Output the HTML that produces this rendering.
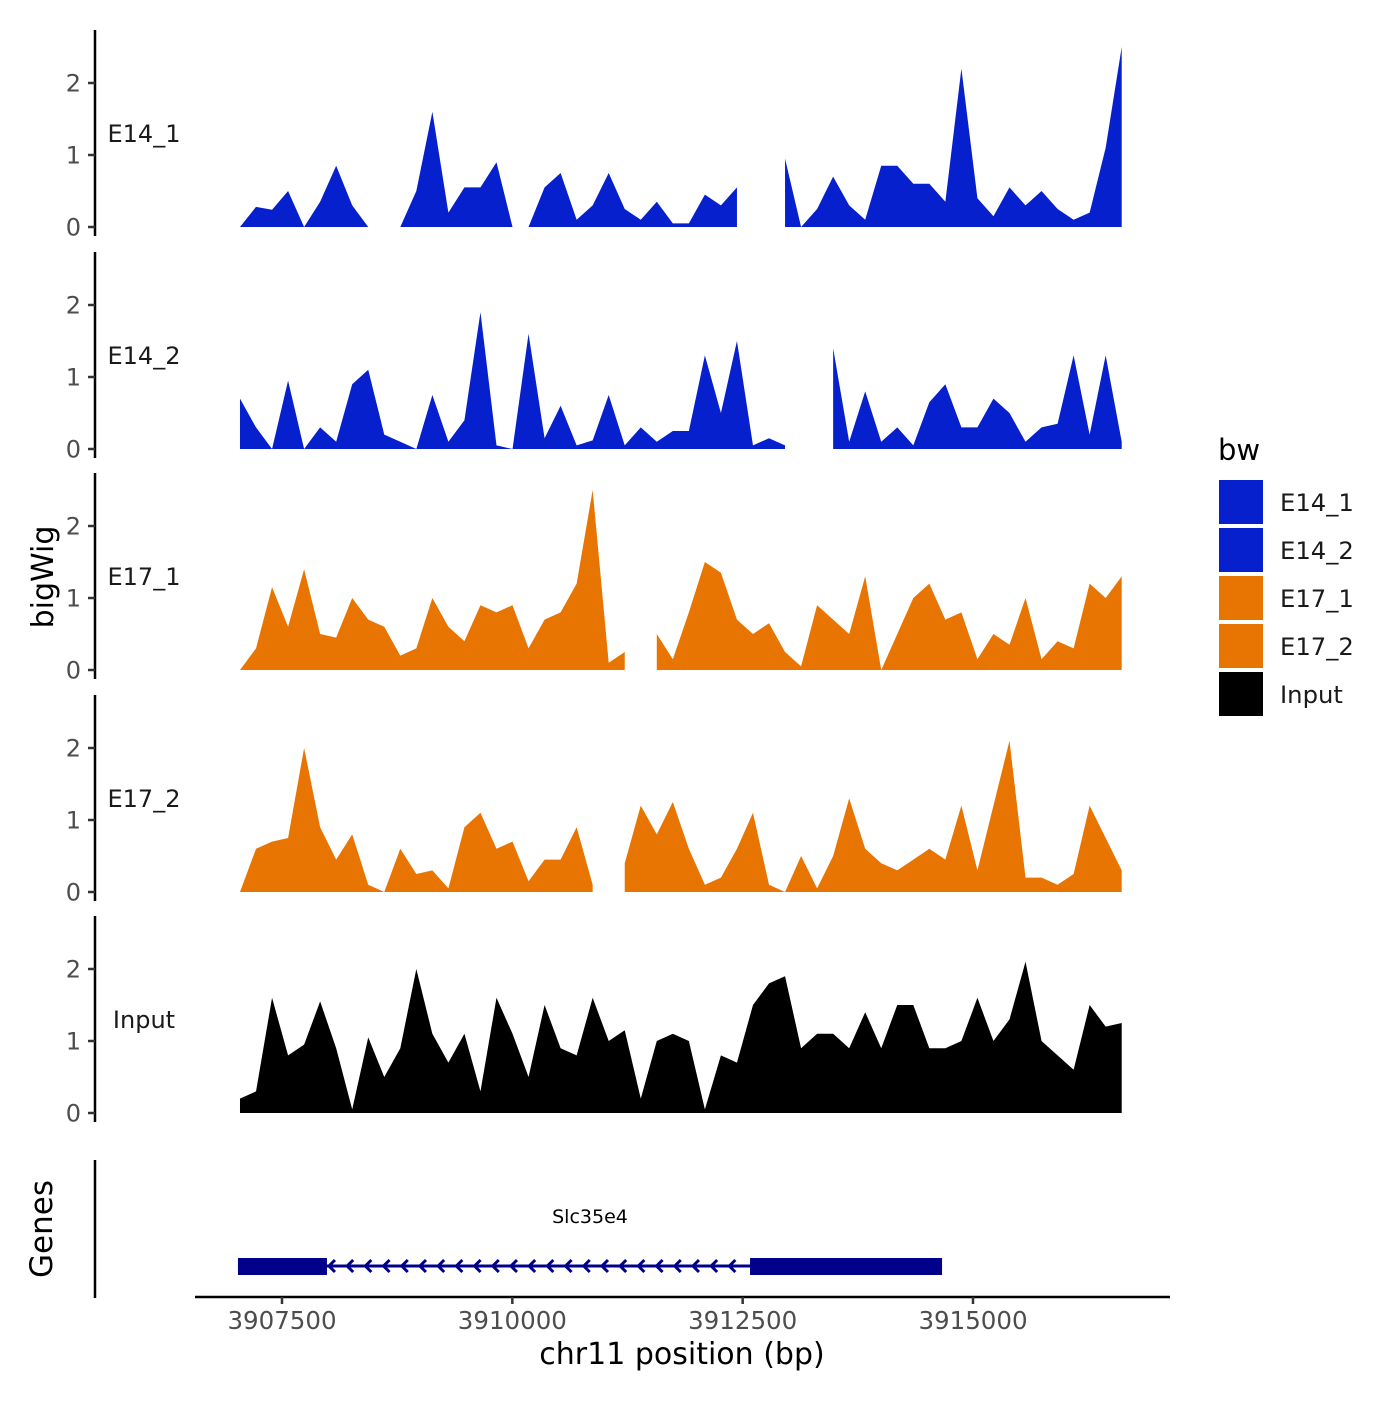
<!DOCTYPE html>
<html><head><meta charset="utf-8"><style>
html,body{margin:0;padding:0;background:#fff;}
svg text{font-family:"DejaVu Sans","Liberation Sans",sans-serif;}
</style></head><body>
<svg id="chart" width="1400" height="1400" viewBox="0 0 1400 1400" xmlns="http://www.w3.org/2000/svg">
<rect width="1400" height="1400" fill="#fff"/>
<g id="tracks"></g>
<g id="genes">
  <line x1="95" y1="1160" x2="95" y2="1298" stroke="#000" stroke-width="2.5"/>
  <text transform="translate(52,1229) rotate(-90)" font-size="31" text-anchor="middle">Genes</text>
  <text x="590" y="1223" font-size="19" text-anchor="middle">Slc35e4</text>
</g>
<g id="xaxis">
  <line x1="195" y1="1297" x2="1170" y2="1297" stroke="#000" stroke-width="2.5"/>
  <text x="682" y="1364" font-size="30" text-anchor="middle">chr11 position (bp)</text>
</g>
<text transform="translate(53,577) rotate(-90)" font-size="30" text-anchor="middle">bigWig</text>
<g id="legend">
  <text x="1218" y="460" font-size="29">bw</text>
</g>
</svg>
<script>
const trackNames = ["E14_1","E14_2","E17_1","E17_2","Input"];
const trackColors = ["#0520CC","#0520CC","#E87502","#E87502","#000000"];
const posStart = 3907044;
const posStep = 174;
const e14_1 = [0,0.28,0.24,0.5,0,0.35,0.85,0.3,0,null,0,0.5,1.6,0.2,0.55,0.55,0.9,0,0,0.55,0.75,0.1,0.3,0.75,0.25,0.1,0.35,0.05,0.05,0.45,0.3,0.55,null,null,0.95,0,0.25,0.7,0.3,0.1,0.85,0.85,0.6,0.6,0.35,2.2,0.4,0.15,0.55,0.3,0.5,0.25,0.1,0.2,1.1,2.5];
const e14_2 = [0.7,0.3,0,0.95,0,0.3,0.1,0.9,1.1,0.2,0.1,0,0.75,0.1,0.4,1.9,0.05,0,1.6,0.15,0.6,0.05,0.12,0.75,0.05,0.3,0.1,0.25,0.25,1.3,0.5,1.5,0.05,0.15,0.05,null,null,1.4,0.1,0.8,0.1,0.3,0.05,0.65,0.9,0.3,0.3,0.7,0.5,0.1,0.3,0.35,1.3,0.2,1.3,0.1];
const e17_1 = [0,0.3,1.15,0.6,1.4,0.5,0.45,1.0,0.7,0.6,0.2,0.3,1.0,0.6,0.4,0.9,0.8,0.9,0.3,0.7,0.8,1.2,2.5,0.1,0.25,null,0.5,0.15,0.8,1.5,1.35,0.7,0.5,0.65,0.25,0.05,0.9,0.7,0.5,1.3,0,0.5,1.0,1.2,0.7,0.8,0.15,0.5,0.35,1.0,0.15,0.4,0.3,1.2,1.0,1.3];
const e17_2 = [0,0.6,0.7,0.75,2.0,0.9,0.45,0.8,0.1,0,0.6,0.25,0.3,0.05,0.9,1.1,0.6,0.7,0.15,0.45,0.45,0.9,0.1,null,0.4,1.2,0.8,1.25,0.6,0.1,0.2,0.6,1.1,0.1,0,0.5,0.05,0.5,1.3,0.6,0.4,0.3,0.45,0.6,0.45,1.2,0.3,1.2,2.1,0.2,0.2,0.1,0.25,1.2,0.75,0.3];
const input = [0.2,0.3,1.6,0.8,0.95,1.55,0.9,0.05,1.05,0.5,0.9,2.0,1.1,0.7,1.1,0.3,1.6,1.1,0.5,1.5,0.9,0.8,1.6,1.0,1.15,0.2,1.0,1.1,1.0,0.05,0.8,0.7,1.5,1.8,1.9,0.9,1.1,1.1,0.9,1.4,0.9,1.5,1.5,0.9,0.9,1.0,1.6,1.0,1.3,2.1,1.0,0.8,0.6,1.5,1.2,1.25];
const seriesValues = [e14_1,e14_2,e17_1,e17_2,input];
const yTicks = [0,1,2];
const xTicks = [3907500,3910000,3912500,3915000];
const geneExons = [[3907022,3907988],[3912580,3914664]];
const geneSpan = [3907022,3914664];

const NS = "http://www.w3.org/2000/svg";
function mk(tag, attrs, parent){ const e=document.createElementNS(NS,tag); for(const k in attrs) e.setAttribute(k,attrs[k]); parent.appendChild(e); return e; }
function xScale(bp){ return 282 + (bp - 3907500) * (691/7500); }
const panelBase = [227, 449, 670, 892, 1113];
const pxPerUnit = 72;
function yScale(p, v){ return panelBase[p] - v * pxPerUnit; }

const tracks = document.getElementById('tracks');
seriesValues.forEach((vals, p) => {
  const g = mk('g', {}, tracks);
  
  
  const base = panelBase[p];
  const ax = mk('line', {x1:95, y1:base-197, x2:95, y2:base+9, stroke:'#000', 'stroke-width':2.5}, g);
  
  
  yTicks.forEach(t => {
    const y = yScale(p, t);
    mk('line', {x1:88, y1:y, x2:95, y2:y, stroke:'#333', 'stroke-width':2.5}, g);
    const tl = mk('text', {x:81, y:y+8.5, 'font-size':24, fill:'#4d4d4d', 'text-anchor':'end'}, g);
    tl.textContent = t;
    
    
  });
  const lab = mk('text', {x:144, y:base-85, 'font-size':24, fill:'#1a1a1a', 'text-anchor':'middle'}, g);
  lab.textContent = trackNames[p];
  
  
  let seg = [];
  const flush = () => {
    if (seg.length) {
      let d = 'M' + seg[0][0] + ',' + base;
      seg.forEach(s => { d += 'L' + s[0] + ',' + s[1]; });
      d += 'L' + seg[seg.length-1][0] + ',' + base + 'Z';
      const path = mk('path', {d:d, fill:trackColors[p]}, g);
      
      
    }
    seg = [];
  };
  vals.forEach((v, i) => {
    if (v === null) { flush(); return; }
    seg.push([xScale(posStart + posStep*i), yScale(p, v)]);
  });
  flush();
});

const xa = document.getElementById('xaxis');
xTicks.forEach(t => {
  const x = xScale(t);
  mk('line', {x1:x, y1:1297, x2:x, y2:1304, stroke:'#333', 'stroke-width':2.5}, xa);
  const tl = mk('text', {x:x, y:1329, 'font-size':24.5, fill:'#4d4d4d', 'text-anchor':'middle'}, xa);
  tl.textContent = t;
  
  
});

const gg = document.getElementById('genes');
const x0 = xScale(geneSpan[0]), x1 = xScale(geneSpan[1]);
const gl = mk('line', {x1:x0, y1:1266, x2:x1, y2:1266, stroke:'#00008B', 'stroke-width':3}, gg);


for (let ax = xScale(geneExons[0][1]) + 2; ax < xScale(geneExons[1][0]) - 4; ax += 18.2) {
  const ar = mk('path', {d:'M'+(ax+6)+',1260 L'+ax+',1266 L'+(ax+6)+',1272', fill:'none', stroke:'#00008B', 'stroke-width':3}, gg);
  
  
}
geneExons.forEach(ex => {
  const r = mk('rect', {x:xScale(ex[0]), y:1258, width:xScale(ex[1])-xScale(ex[0]), height:17, fill:'#00008B'}, gg);
  
  
});

const lg = document.getElementById('legend');
trackNames.forEach((n, i) => {
  const y = 480 + i*48;
  const r = mk('rect', {x:1219, y:y, width:44, height:44, fill:trackColors[i]}, lg);
  
  
  const t = mk('text', {x:1280, y:y+31, 'font-size':24.3, fill:'#1a1a1a'}, lg);
  t.textContent = n;
  
  
});
</script>
</body></html>
